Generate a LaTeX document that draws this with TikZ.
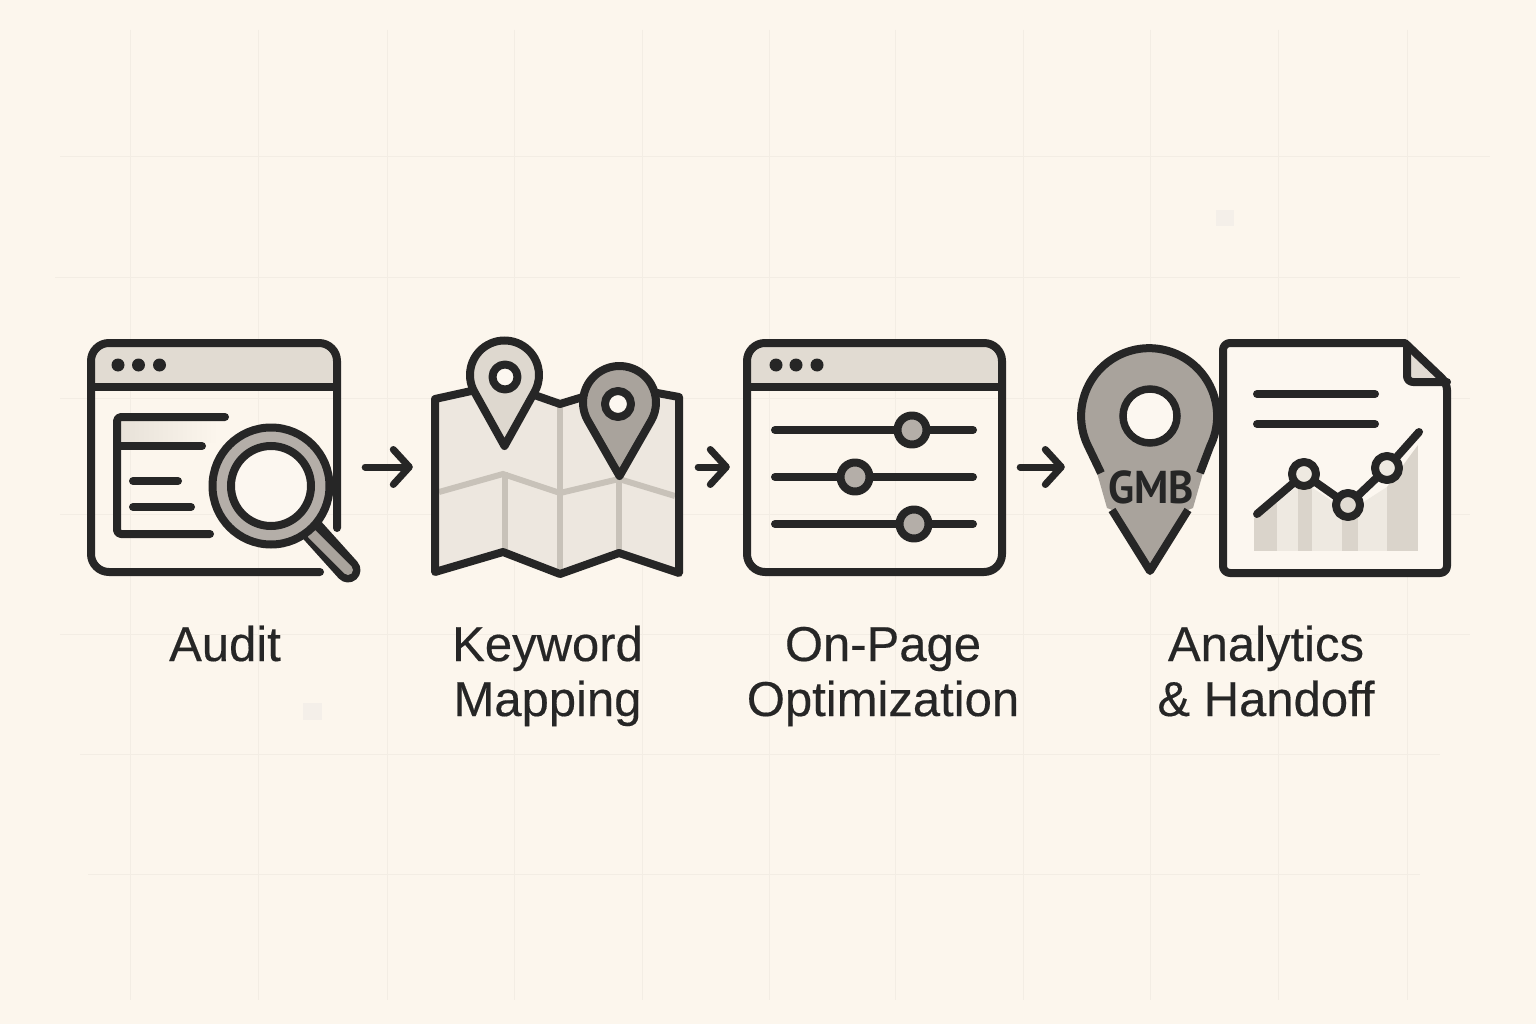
\documentclass[tikz,border=0pt]{standalone}
\usepackage{fontspec}
\setmainfont[FakeBold=0.3]{Liberation Sans}
\newfontfamily\gmbfont{PT Sans}
\usetikzlibrary{arrows.meta}
\definecolor{bgc}{HTML}{FCF6ED}
\definecolor{gridc}{HTML}{F3EDE4}
\definecolor{markc}{HTML}{F4EFE9}
\definecolor{ink}{HTML}{262626}
\definecolor{headc}{HTML}{E1DBD2}
\definecolor{pagec}{HTML}{FCF7F0}
\definecolor{pingray}{HTML}{A9A39C}
\definecolor{knobc}{HTML}{B4AEA8}
\definecolor{mapc}{HTML}{EDE7DF}
\definecolor{creasec}{HTML}{C8C2B9}
\definecolor{pinlight}{HTML}{DED8CF}
\definecolor{barlight}{HTML}{EEE9E1}
\definecolor{bardark}{HTML}{DAD4CB}
\tikzset{
  ink line/.style={draw=ink,line width=8pt,line cap=round,line join=round},
  grid line/.style={draw=gridc,line width=1pt},
  icon box/.style={inner sep=0pt,minimum height=240pt,draw=none},
  flow arrow/.style={draw=ink,line width=7pt,line cap=round,line join=round,
    -{Straight Barb[length=16pt,width=35pt,line cap=round,line join=round]}},
  step label/.style={text=ink,font=\fontsize{49}{55}\selectfont,align=center,anchor=base,inner sep=0pt},
  win dot/.style={fill=ink,draw=none},
}
% centre x, centre y, radius, tip y: closed pin outline
\newcommand{\pinoutline}[4]{%
  \pgfmathsetmacro\pinth{acos(#3/(#4-#2))}%
  \pgfmathsetmacro\pinlx{#1-#3*sin(\pinth)}%
  \pgfmathsetmacro\pinly{#2+#3*cos(\pinth)}%
  \pgfmathsetmacro\pinst{90+\pinth}%
  \pgfmathsetmacro\pinen{450-\pinth}%
}
\newcommand{\winframe}[4]{% left top right bottom of the header band
  \fill[headc] (#1,#2) [rounded corners=12pt] -- (#3,#2) [sharp corners] -- (#3,387) -- (#1,387) [rounded corners=12pt] -- cycle;
}
\begin{document}
\begin{tikzpicture}[x=1pt,y=-1pt]
\useasboundingbox (0,0) rectangle (1536,1024);
\fill[bgc] (0,0) rectangle (1536,1024);
% faint background grid
\foreach \gx in {130,258,387,514,642,769,895,1023,1150,1278,1407}
  \draw[grid line] (\gx,30) -- (\gx,1000);
\draw[grid line] (60,157) -- (1490,157);
\draw[grid line] (55,278) -- (1460,278);
\draw[grid line] (60,398) -- (1470,398);
\draw[grid line] (60,514) -- (1470,514);
\draw[grid line] (60,634) -- (1470,634);
\draw[grid line] (80,754) -- (1440,754);
\draw[grid line] (88,874) -- (1420,874);
\fill[markc] (1216,210) rectangle (1234,226);
\fill[markc] (303,703) rectangle (322,720);

% invisible icon boxes used by the connectors
\node[icon box,minimum width=273pt] (audit) at (223.5,467) {};
\node[icon box,minimum width=250pt] (keyword) at (557,467) {};
\node[icon box,minimum width=263pt] (onpage) at (874.5,467) {};
\node[icon box,minimum width=373pt] (analytics) at (1264.5,467) {};

% ---------- Audit icon
\winframe{91}{343}{337}{387}
\draw[ink line] (320,572) -- (109,572) [rounded corners=18pt] -- (91,572) -- (91,343) -- (337,343) [sharp corners] -- (337,528);
\draw[ink line,line cap=butt] (91,387) -- (337,387);
\foreach \dx in {118,138.5,159.5} \fill[win dot] (\dx,365) circle[radius=6.5];
\shade[left color=headc!75!bgc,middle color=headc!55!bgc,right color=bgc,draw=none] (121,421) rectangle (218,442);
\draw[ink line,rounded corners=4pt] (225,417) -- (117,417) -- (117,534) -- (210,534);
\draw[ink line] (117,446) -- (202,446);
\draw[ink line] (133,481) -- (178,481);
\draw[ink line] (133,507) -- (191,507);
% magnifier
\draw[draw=ink,line width=25pt,line cap=round] (312,530) -- (348,570);
\draw[draw=pingray,line width=10pt,line cap=round] (312,534) -- (348,570);
\draw[draw=ink,line width=8pt,fill=knobc] (271,486) circle[radius=58.5];
\draw[draw=ink,line width=8pt,fill=pagec] (271,486) circle[radius=40];

% ---------- Keyword mapping icon
\path[fill=mapc] (435,399) -- (503,384) -- (560,404) -- (619,386) -- (679,397) -- (679,573) -- (619,553) -- (560,574) -- (503,552) -- (435,572) -- cycle;
\draw[creasec,line width=6pt] (439,492) -- (503,474) -- (560,493) -- (619,479) -- (675,496);
\draw[creasec,line width=6pt] (560,404) -- (560,574);
\draw[creasec,line width=6pt] (505,472) -- (505,552);
\draw[creasec,line width=6pt] (619,477) -- (619,553);
\draw[ink line] (435,399) -- (503,384) -- (560,404) -- (619,386) -- (679,397) -- (679,573) -- (619,553) -- (560,574) -- (503,552) -- (435,572) -- cycle;
\pinoutline{504.5}{375}{34.5}{446}
\draw[ink line,fill=pinlight] (504.5,446) -- (\pinlx,\pinly) arc[start angle=\pinst,end angle=\pinen,radius=34.5] -- cycle;
\draw[ink line,fill=pagec] (505,377) circle[radius=12.5];
\pinoutline{619.5}{402.5}{36.5}{476}
\draw[ink line,fill=pingray] (619.5,476) -- (\pinlx,\pinly) arc[start angle=\pinst,end angle=\pinen,radius=36.5] -- cycle;
\draw[ink line,fill=pagec] (618,404) circle[radius=13];

% ---------- On-page icon
\winframe{747}{343}{1002}{387}
\draw[ink line,rounded corners=18pt] (747,343) rectangle (1002,572);
\draw[ink line,line cap=butt] (747,387) -- (1002,387);
\foreach \dx in {776,796,817} \fill[win dot] (\dx,365) circle[radius=6.5];
\draw[ink line] (775,430) -- (973,430);
\draw[ink line] (775,477) -- (973,477);
\draw[ink line] (775,524) -- (973,524);
\draw[ink line,fill=knobc] (912,430) circle[radius=14.5];
\draw[ink line,fill=knobc] (855,477) circle[radius=14.5];
\draw[ink line,fill=knobc] (914,524) circle[radius=14.5];

% ---------- GMB pin
\path[fill=pingray] (1150,571) -- (1112,510) -- (1107,508) -- (1097,473) -- (1100,473) -- (1088,446)
  arc[start angle=154,end angle=386,radius=68] -- (1200,473) -- (1203,473) -- (1193,508) -- (1188,510) -- cycle;
\draw[ink line,line cap=butt] (1101,473) -- (1088,446) arc[start angle=154,end angle=386,radius=68] -- (1200,473);
\draw[ink line,line cap=butt] (1112,510) -- (1150,571) -- (1188,510);
\draw[draw=ink,line width=7.5pt,fill=pagec] (1150,416) circle[radius=27];
\node[text=ink,font=\gmbfont\bfseries\fontsize{46}{46}\selectfont,inner sep=0pt,anchor=base] (gmb) at (1151,503) {\scalebox{.93}[1]{GMB}};

% ---------- Analytics document
\fill[pagec] (1223,343) -- (1405,343) -- (1447,383) -- (1447,573) -- (1223,573) -- cycle;
\fill[headc] (1407,348) -- (1407,382) -- (1442,382) -- cycle;
\draw[ink line,rounded corners=7pt] (1405,343) -- (1223,343) -- (1223,573) -- (1447,573) -- (1447,383) [sharp corners] -- (1405,343);
\draw[ink line,rounded corners=6pt] (1407,346) -- (1407,382) -- (1447,382);
\draw[ink line] (1257,394) -- (1375,394);
\draw[ink line] (1257,424) -- (1375,424);
\begin{scope}
  \clip (1254,518) -- (1304,482) -- (1348,512) -- (1387,487) -- (1418,445) -- (1418,551) -- (1254,551) -- cycle;
  \fill[bardark] (1254,430) rectangle (1277,551);
  \fill[barlight] (1277,430) rectangle (1298,551);
  \fill[bardark] (1298,430) rectangle (1312,551);
  \fill[barlight] (1312,430) rectangle (1342,551);
  \fill[bardark] (1342,430) rectangle (1358,551);
  \fill[barlight] (1358,430) rectangle (1387,551);
  \fill[bardark] (1387,430) rectangle (1418,551);
\end{scope}
\draw[ink line] (1257,514) -- (1304,474) -- (1348,505) -- (1387,468) -- (1419,432);
\draw[ink line,fill=barlight] (1304,474) circle[radius=12];
\draw[ink line,fill=headc] (1348,505) circle[radius=12];
\draw[ink line,fill=barlight] (1387,468) circle[radius=12];

% ---------- connectors
\draw[flow arrow,shorten <=5pt,shorten >=19pt] (audit.east) -- (keyword.west);
\draw[flow arrow,shorten <=16pt,shorten >=13pt] (keyword.east) -- (onpage.west);
\draw[flow arrow,shorten <=14pt,shorten >=13pt] (onpage.east) -- (analytics.west);

% ---------- labels
\node[step label] (l1) at (225,661) {Audit};
\node[step label] (l2) at (547.5,716) {Keyword\\Mapping};
\node[step label] (l3) at (883,716) {On-Page\\Optimization};
\node[step label] (l4) at (1266,716) {Analytics\\\& Handoff};
\end{tikzpicture}
\end{document}
